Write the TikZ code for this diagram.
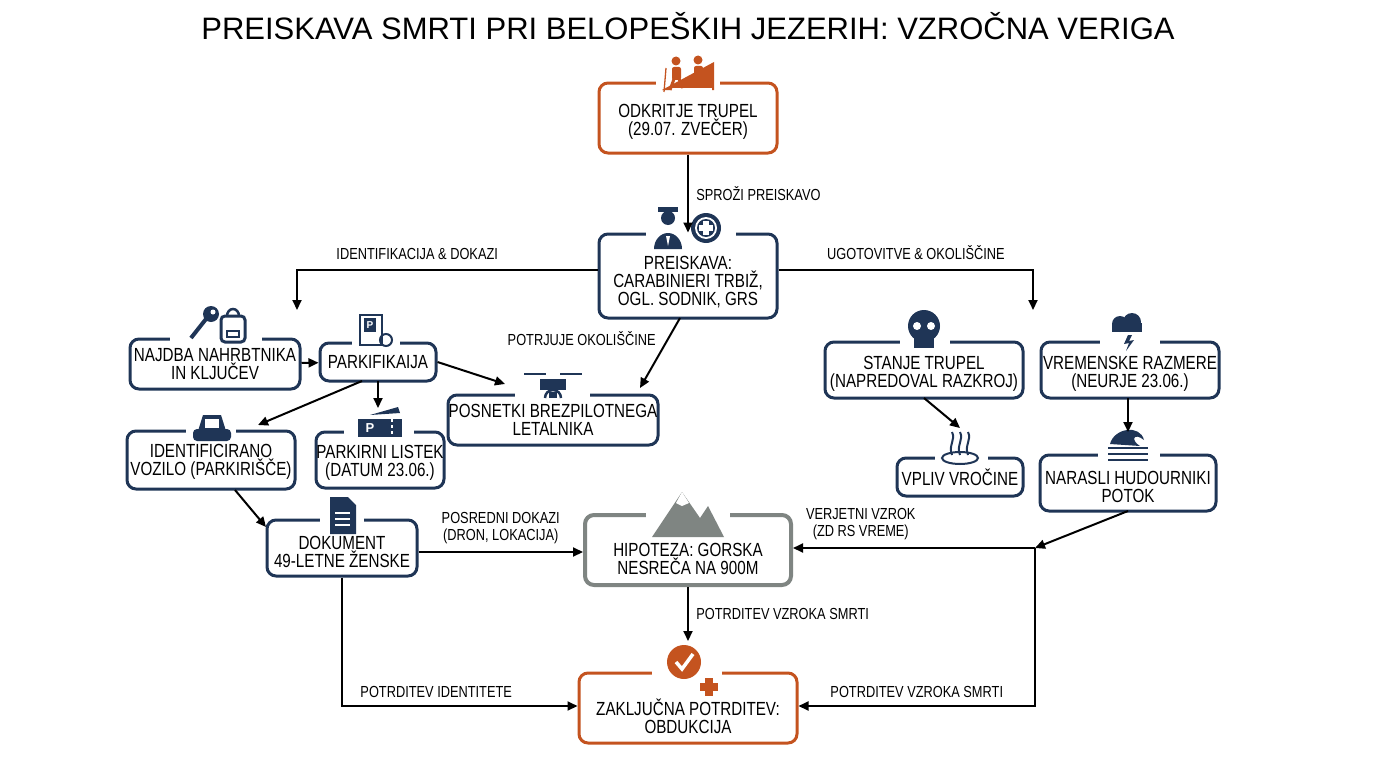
\documentclass[tikz,border=0pt]{standalone}
\usepackage{fontspec}
\setmainfont{Liberation Sans}
\newfontfamily\cond[FakeStretch=0.8]{Liberation Sans}
\usetikzlibrary{arrows.meta,calc}
\definecolor{navy}{HTML}{1F3556}
\definecolor{rust}{HTML}{C4531F}
\definecolor{gry}{HTML}{7F8582}
\newcommand\mybox[7]{\node[#1,minimum width=#4pt,minimum height=#5pt] (#2) at (#3) {};
 \node[txt] at ($(#2)+(0,#6)$) {#7};}
\begin{document}
\begin{tikzpicture}[x=1pt,y=-1pt,
 box/.style={draw=navy,line width=3pt,rounded corners=9pt,fill=white,inner sep=0pt},
 txt/.style={align=center,inner sep=0pt,font=\cond\fontsize{19}{18}\selectfont,text=black},
 obox/.style={box,draw=rust},
 gbox/.style={box,draw=gry,line width=4pt},
 arr/.style={-{Triangle[length=10pt,width=9pt]},line width=2pt,black},
 lab/.style={font=\cond\fontsize{16}{16.5}\selectfont,align=center,text=black}]
\useasboundingbox (0,0) rectangle (1376,768);
\node[font=\fontsize{31}{33}\selectfont] (title) at (688,26) {PREISKAVA SMRTI PRI BELOPEŠKIH JEZERIH: VZROČNA VERIGA};
% nodes
\mybox{obox}{odk}{688,118}{178}{70}{4}{ODKRITJE TRUPEL\\(29.07. ZVEČER)}
\mybox{box}{pre}{688,276}{178}{84}{6}{PREISKAVA:\\CARABINIERI TRBIŽ,\\OGL. SODNIK, GRS}
\mybox{box}{naj}{215,364}{170}{50}{0}{NAJDBA NAHRBTNIKA\\IN KLJUČEV}
\mybox{box}{park}{378,362}{116}{38}{0}{PARKIFIKAIJA}
\mybox{box}{pos}{553,420}{210}{50}{0}{POSNETKI BREZPILOTNEGA\\LETALNIKA}
\mybox{box}{ide}{211,460}{168}{58}{2}{IDENTIFICIRANO\\VOZILO (PARKIRIŠČE)}
\mybox{box}{lis}{380,460}{128}{56}{3}{PARKIRNI LISTEK\\(DATUM 23.06.)}
\mybox{box}{dok}{342,548}{150}{56}{4}{DOKUMENT\\49-LETNE ŽENSKE}
\mybox{gbox}{hip}{688,550}{206}{70}{9}{HIPOTEZA: GORSKA\\NESREČA NA 900M}
\mybox{obox}{zak}{688,708}{218}{70}{8}{ZAKLJUČNA POTRDITEV:\\OBDUKCIJA}
\mybox{box}{sta}{924,370}{198}{56}{4}{STANJE TRUPEL\\(NAPREDOVAL RAZKROJ)}
\mybox{box}{vre}{1130,370}{178}{56}{4}{VREMENSKE RAZMERE\\(NEURJE 23.06.)}
\mybox{box}{vpl}{960,477}{126}{38}{0}{VPLIV VROČINE}
\mybox{box}{nar}{1128,483}{176}{56}{4}{NARASLI HUDOURNIKI\\POTOK}
% icons
\fill[white] (656,78) rectangle (720,90);
\begin{scope}[rust]
\fill (662,90)--(714,62)--(714,90)--cycle;
\fill[white] (670,88) rectangle (712,92);
\fill (676,61) circle (4.5); \fill[rounded corners=2pt] (672,67) rectangle (681,80); \draw[line width=3pt] (674,79)--(670,90) (679,79)--(683,88);
\fill (698,60) circle (4.5); \fill[rounded corners=2pt] (694,66) rectangle (703,78); \draw[line width=3pt] (696,77)--(693,86) (701,77)--(705,84);
\draw[line width=1.3pt] (666,68)--(664,92); \draw[line width=1.3pt] (708,68)--(710,86);
\end{scope}
\fill[white] (646,225) rectangle (736,240);
\fill[navy] (668,218) circle (7); \fill[navy] (658,207) rectangle (678,212); \fill[navy] (654,249) arc(180:360:14 and 16) -- cycle;
\fill[white] (666,236)--(670,236)--(668,246)--cycle;
\fill[navy] (706,228) circle (15); \fill[white] (706,228) circle (11); \fill[navy] (706,228) circle (9);
\fill[white] (703,221) rectangle (709,235); \fill[white] (699,225) rectangle (713,231);
\fill[white] (170,332) rectangle (262,345);
\fill[navy] (211,314) circle (8); \fill[white] (213,312) circle (2.5); \draw[navy,line width=4pt] (206,319)--(191,338);
\draw[navy,line width=3pt,rounded corners=4pt] (221,316) rectangle (245,342); \draw[navy,line width=2.5pt] (227,316) arc(180:360:6 and 7);
\draw[navy,line width=2pt] (227,331) rectangle (239,337);
\fill[white] (352,336) rectangle (400,348);
\draw[navy,line width=2.5pt] (360,315) rectangle (382,345); \fill[navy] (364,318) rectangle (376,332); \node[white,font=\bfseries\fontsize{10}{10}\selectfont] at (370,325) {P};
\draw[navy,line width=2pt] (386,340) circle (6);
\fill[white] (515,376) rectangle (590,398);
\fill[navy] (540,379) rectangle (566,390); \draw[navy,line width=2pt] (524,374)--(546,374) (560,374)--(582,374);
\draw[navy,line width=2.5pt] (545,398) arc(180:360:8); \fill[navy] (549,392) rectangle (557,398);
\fill[white] (186,425) rectangle (236,434);
\fill[navy,rounded corners=4pt] (193,429) rectangle (231,441); \fill[navy] (198,431)--(203,415)--(221,415)--(226,431)--cycle; \fill[white] (205,419) rectangle (219,428);
\fill[white] (344,428) rectangle (414,436);
\fill[navy] (358,419) rectangle (402,437); \node[white,font=\bfseries\fontsize{13}{13}\selectfont] at (370,428) {P};
\draw[white,dashed,line width=1.2pt] (392,419)--(392,437); \fill[navy] (370,415)--(398,407)--(400,413)--cycle;
\fill[white] (320,512) rectangle (364,522);
\fill[navy] (330,497)--(348,497)--(356,505)--(356,534)--(330,534)--cycle; \draw[white,line width=1.5pt] (335,513)--(350,513) (335,519)--(350,519) (335,525)--(350,525);
\fill[white] (646,512) rectangle (730,520);
\fill[gry] (652,537)--(682,492)--(700,518)--(708,506)--(724,537)--cycle; \fill[white] (676,503)--(682,492)--(689,503)--(682,506)--cycle;
\fill[white] (652,670) rectangle (722,676);
\fill[rust] (684,662) circle (17); \draw[white,line width=3.5pt] (676,662)--(682,669)--(693,654);
\fill[white] (700,675) rectangle (719,699);
\fill[rust] (705,678) rectangle (713,696); \fill[rust] (700,683) rectangle (718,691);
\fill[white] (900,336) rectangle (950,346);
\fill[navy] (924,326) circle (16); \fill[navy] (914,332) rectangle (934,348); \fill[white] (917,326) circle (4); \fill[white] (931,326) circle (4);
\fill[white] (1100,336) rectangle (1160,346);
\fill[navy] (1120,324) circle (8); \fill[navy] (1132,322) circle (9); \fill[navy] (1112,323) rectangle (1142,332);
\fill[navy] (1128,335)--(1124,344)--(1129,343)--(1126,351)--(1134,340)--(1129,341)--(1132,335)--cycle;
\fill[white] (935,454) rectangle (988,462);
\draw[navy,line width=2pt] (960,458) ellipse (18 and 6);
\foreach \x in {952,960,968} \draw[navy,line width=2pt] (\x,455) .. controls (\x-4,445) and (\x+4,440) .. (\x,432);
\fill[white] (1098,452) rectangle (1160,462);
\fill[navy] (1110,444) .. controls (1114,428) and (1140,424) .. (1144,440) .. controls (1134,432) and (1130,440) .. (1140,446) -- cycle;
\foreach \y in {448,454,460} \draw[navy,line width=2pt] (1108,\y)--(1148,\y);
% connectors
\coordinate (zt) at (688,641);
\draw[arr] (odk) -- (pre) node[lab,midway,right=4pt] {SPROŽI PREISKAVO};
\draw[arr] (pre.west |- 0,270) -| (297,310) node[lab,pos=0.3,above=6pt] {IDENTIFIKACIJA \& DOKAZI};
\draw[arr] (pre.east |- 0,270) -| (1033,310) node[lab,pos=0.27,above=6pt] {UGOTOVITVE \& OKOLIŠČINE};
\draw[arr] (680,318) -- (640,388) node[lab,pos=0.3,left=8pt] {POTRJUJE OKOLIŠČINE};
\draw[arr] (naj) -- (park);
\draw[arr] (park.east) -- (505,384);
\draw[arr] (362,381) -- (258,425);
\draw[arr] (378,381) -- (378,408);
\draw[arr] (235,490) -- (266,527);
\draw[arr] (dok.east |- 0,552) -- (hip.west |- 0,552) node[lab,midway,above=4pt] {POSREDNI DOKAZI\\(DRON, LOKACIJA)};
\draw[arr] (924,398) -- (960,428);
\draw[arr] (1128,398) -- (1128,432);
\coordinate (j) at (1035,548);
\draw[arr] (1128,511) -- (j);
\draw[arr] (j) -- (hip.east |- j) node[lab,pos=0.72,above=4pt] {VERJETNI VZROK\\(ZD RS VREME)};
\draw[arr] (j) |- (zak.east |- 0,706) node[lab,pos=0.75,above=4pt] {POTRDITEV VZROKA SMRTI};
\draw[arr] (hip) -- (zt) node[lab,midway,right=4pt] {POTRDITEV VZROKA SMRTI};
\draw[arr] (dok.south) |- (zak.west |- 0,706) node[lab,pos=0.7,above=4pt] {POTRDITEV IDENTITETE};
\end{tikzpicture}
\end{document}
